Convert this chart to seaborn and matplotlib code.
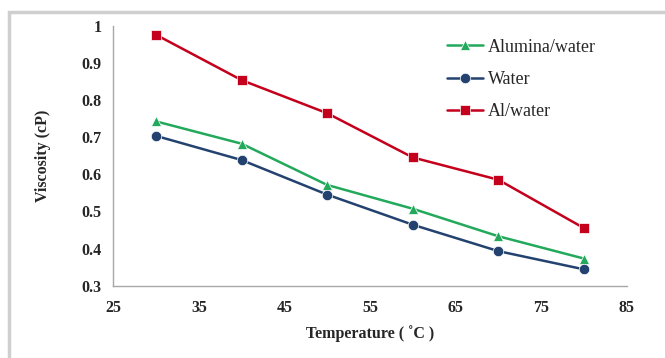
import matplotlib
matplotlib.use("Agg")
import matplotlib.pyplot as plt
import seaborn as sns
import pandas as pd
from matplotlib.patches import Rectangle

temperature = [30, 40, 50, 60, 70, 80]
alumina_water = [0.742, 0.682, 0.571, 0.507, 0.433, 0.373]
water = [0.703, 0.638, 0.545, 0.464, 0.393, 0.344]
al_water = [0.975, 0.853, 0.764, 0.645, 0.585, 0.455]
series_names = ["Alumina/water", "Water", "Al/water"]
x_ticks = [25, 35, 45, 55, 65, 75, 85]
y_ticks = [0.3, 0.4, 0.5, 0.6, 0.7, 0.8, 0.9, 1.0]
y_tick_labels = ["0.3", "0.4", "0.5", "0.6", "0.7", "0.8", "0.9", "1"]

sns.set_style("white")
plt.rcParams["font.family"] = ["Liberation Serif", "DejaVu Serif"]

df = pd.concat([
    pd.DataFrame({"Temperature": temperature, "Viscosity": alumina_water, "Series": series_names[0]}),
    pd.DataFrame({"Temperature": temperature, "Viscosity": water, "Series": series_names[1]}),
    pd.DataFrame({"Temperature": temperature, "Viscosity": al_water, "Series": series_names[2]}),
])

palette = {"Alumina/water": "#22a95c", "Water": "#24426f", "Al/water": "#c4001c"}
markers = {"Alumina/water": "^", "Water": "o", "Al/water": "s"}

fig = plt.figure(figsize=(6.65, 3.58), dpi=100)
fig.patches.append(Rectangle((9 / 665, -0.1), 1.2, 1 - 12 / 358 + 0.1, transform=fig.transFigure,
                             fill=False, edgecolor="#cfcfcf", linewidth=2.5, zorder=0))
ax = fig.add_axes([113.3 / 665, 1 - 285.7 / 358, (626.7 - 113.3) / 665, (285.7 - 25.5) / 358])

sns.lineplot(data=df, x="Temperature", y="Viscosity", hue="Series", style="Series",
             palette=palette, markers=markers, dashes=False, hue_order=series_names,
             style_order=series_names, markersize=7.5, linewidth=1.8, markeredgewidth=0.5,
             ax=ax)

ax.set_xlim(25, 85)
ax.set_ylim(0.3, 1.0)
ax.set_xticks(x_ticks)
ax.set_yticks(y_ticks)
ax.set_yticklabels(y_tick_labels)
for lab in ax.get_xticklabels() + ax.get_yticklabels():
    lab.set_fontweight("bold")
    lab.set_fontsize(11.5)
ax.tick_params(axis="both", direction="inout", length=5, width=0.8, color="#a0a0a0", pad=6)
ax.tick_params(axis="x", pad=8)

for s in ["top", "right"]:
    ax.spines[s].set_visible(False)
for s in ["left", "bottom"]:
    ax.spines[s].set_color("#a8a8a8")
    ax.spines[s].set_linewidth(1.0)

ax.set_xlabel("Temperature ( \u02daC )", fontsize=11.5, fontweight="bold", labelpad=6)
ax.set_ylabel("Viscosity (cP)", fontsize=11.5, fontweight="bold", labelpad=22)

leg = ax.legend(loc="upper left", bbox_to_anchor=(0.632, 0.984), frameon=False, fontsize=13,
                borderpad=0, labelspacing=0.85, handlelength=2.0, handletextpad=0.3)

fig.savefig("out.png", dpi=100)
